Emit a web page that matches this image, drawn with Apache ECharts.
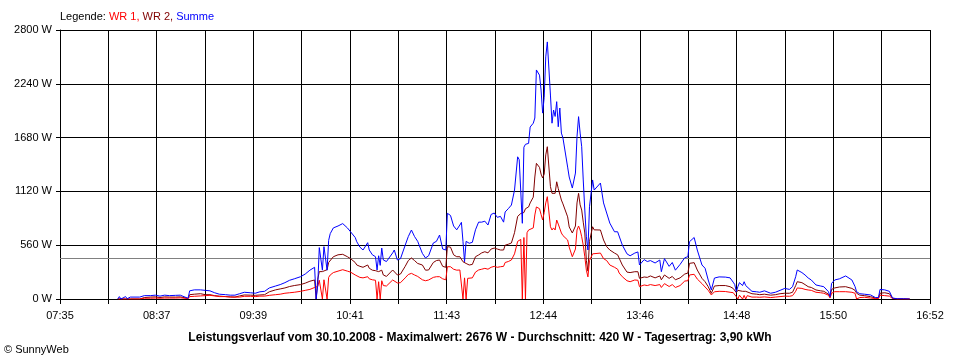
<!DOCTYPE html>
<html><head><meta charset="utf-8">
<script src="https://cdn.jsdelivr.net/npm/echarts@6/dist/echarts.min.js"></script>
<style>html,body{margin:0;padding:0;background:#fff}#c{width:960px;height:360px}</style>
</head><body><div id="c"></div>
<script>
const times = [
"08:12","08:13","08:14","08:17","08:18","08:20","08:21","08:26","08:27","08:29",
"08:33","08:36","08:39","08:42","08:45","08:49","08:52","08:55","08:57","08:58",
"09:01","09:05","09:08","09:11","09:14","09:17","09:21","09:24","09:27","09:30",
"09:33","09:37","09:40","09:43","09:46","09:49","09:53","09:56","09:59","10:02",
"10:05","10:09","10:12","10:15","10:18","10:19","10:20","10:21","10:23","10:24",
"10:26","10:27","10:28","10:30","10:33","10:36","10:39","10:41","10:42","10:44",
"10:45","10:47","10:49","10:52","10:53","10:55","10:57","10:58","10:59","11:00",
"11:01","11:02","11:04","11:05","11:08","11:09","11:11","11:13","11:16","11:18",
"11:20","11:22","11:24","11:25","11:27","11:29","11:31","11:34","11:36","11:38",
"11:40","11:42","11:43","11:45","11:47","11:49","11:51","11:52","11:53","11:54",
"11:55","11:56","11:57","11:59","12:01","12:03","12:05","12:07","12:09","12:11",
"12:13","12:15","12:17","12:19","12:20","12:22","12:24","12:26","12:28","12:29",
"12:30","12:31","12:32","12:33","12:34","12:35","12:36","12:38","12:39","12:40",
"12:42","12:43","12:44","12:45","12:46","12:47","12:49","12:50","12:51","12:52",
"12:53","12:54","12:55","12:56","12:57","13:00","13:01","13:03","13:05","13:06",
"13:07","13:08","13:09","13:10","13:11","13:12","13:13","13:14","13:16","13:17",
"13:21","13:23","13:25","13:27","13:30","13:32","13:33","13:35","13:38","13:40",
"13:43","13:45","13:46","13:49","13:51","13:53","13:56","13:59","14:00","14:02",
"14:05","14:07","14:09","14:12","14:15","14:17","14:18","14:21","14:22","14:23",
"14:26","14:28","14:30","14:32","14:34","14:37","14:41","14:44","14:46","14:47",
"14:48","14:49","14:50","14:52","14:53","14:54","14:55","14:58","15:01","15:03",
"15:06","15:10","15:13","15:16","15:19","15:22","15:24","15:26","15:27","15:30",
"15:32","15:34","15:36","15:39","15:42","15:44","15:47","15:48","15:49","15:51",
"15:54","15:58","15:59","16:02","16:04","16:05","16:06","16:07","16:10","16:14",
"16:17","16:19","16:20","16:23","16:26","16:28","16:31","16:35","16:39"
];
const wr1 = [
0,0,0,0,0,0,0,0,5,8,
8,10,8,10,10,10,12,8,3,25,
28,32,35,38,32,25,25,20,20,20,
28,28,25,30,30,38,45,50,60,65,
70,80,90,100,120,125,130,195,0,200,
0,225,250,275,290,305,290,280,267,250,
232,225,220,232,210,200,195,0,180,0,
190,140,135,135,198,195,167,170,220,255,
267,250,235,230,200,190,198,225,232,232,
210,200,336,336,310,300,302,302,0,220,
0,215,215,220,280,302,310,319,310,330,
340,330,336,340,380,390,406,470,600,610,
620,0,640,0,690,718,718,740,875,958,
940,880,822,900,1000,1065,752,718,740,718,
822,780,800,687,660,614,540,440,520,718,
760,718,648,560,440,300,230,400,470,450,
478,420,400,354,330,310,270,232,190,180,
198,195,128,146,140,150,140,150,120,160,
130,150,120,140,187,190,250,257,255,208,
160,125,90,42,75,80,78,70,66,60,
24,0,40,0,38,0,35,20,20,18,
22,15,20,25,30,28,35,80,115,110,
100,94,90,70,65,60,40,10,60,76,
76,76,76,70,60,0,20,15,18,10,
5,5,40,35,30,5,0,0,0
];
const wr2 = [
0,0,0,0,0,0,0,0,8,15,
20,22,15,22,20,20,22,12,5,45,
50,55,45,45,35,30,25,22,20,32,
42,40,38,42,45,75,95,105,115,130,
140,150,165,185,198,0,205,285,285,300,
305,380,400,440,460,465,440,420,406,380,
354,340,330,354,320,300,295,290,285,270,
300,250,235,240,302,300,250,260,340,400,
427,400,370,360,354,300,302,380,400,406,
340,330,545,540,460,440,440,440,388,388,
370,354,354,360,440,458,480,492,480,520,
530,520,510,510,560,570,583,690,860,875,
890,890,900,940,950,958,1000,1060,1270,1412,
1370,1300,1260,1300,1500,1585,1170,1100,1120,1100,
1220,1150,1170,1030,990,855,750,687,760,1000,
1100,980,926,800,687,400,290,600,752,720,
718,614,545,510,478,460,440,354,280,275,
284,284,215,229,225,240,220,240,200,250,
215,235,200,220,260,270,371,378,375,302,
215,180,128,59,135,140,140,128,110,100,
66,90,97,80,90,80,70,55,50,45,
50,40,45,55,60,60,70,140,180,170,
150,128,120,94,85,80,50,24,100,115,
125,128,128,110,90,60,45,40,35,24,
10,10,60,65,55,8,0,0,0
];
const summe = [
0,25,0,25,3,20,3,20,10,35,
35,40,30,40,35,38,40,20,8,85,
95,95,90,85,65,50,45,40,40,55,
70,65,60,75,80,115,135,150,170,195,
210,232,260,300,330,0,140,535,300,545,
300,610,680,740,760,785,740,700,684,640,
596,540,510,586,510,460,440,302,450,350,
530,406,390,400,480,510,406,420,560,650,
718,650,600,620,475,427,450,583,600,666,
520,510,892,870,760,720,770,798,600,388,
600,596,580,590,720,800,800,810,770,880,
895,850,860,800,906,940,978,1134,1480,1450,
1430,788,1580,1610,1615,1620,1790,1830,1884,2384,
2330,2175,1935,2100,2520,2676,2123,1830,1967,1900,
2054,1793,1988,1727,1676,1373,1270,1155,1311,1690,
1898,1727,1585,1239,926,648,510,960,1239,1134,
1207,1000,895,790,700,700,718,562,470,450,
478,490,354,410,390,400,375,406,284,420,
340,380,300,360,430,440,596,640,635,510,
354,320,198,94,218,230,228,220,175,150,
76,128,170,140,180,140,128,80,75,70,
85,60,70,90,110,100,128,232,302,275,
250,219,198,146,135,128,76,24,163,198,
210,240,250,198,130,76,60,55,50,42,
15,15,100,95,80,10,3,3,0
];
const xTickLabels = ['07:35','08:37','09:39','10:41','11:43','12:44','13:46','14:48','15:50','16:52'];
const yMax = 2800, yStep = 560;
const avgValue = 420;
const titleText = 'Leistungsverlauf vom 30.10.2008 - Maximalwert: 2676 W - Durchschnitt: 420 W - Tagesertrag: 3,90 kWh';

const startMin = 7*60+35, endMin = 16*60+52;
const unitsPerMin = 18;              // axis units per minute (keeps the grid step integral)
const xSpan = (endMin - startMin) * unitsPerMin;
const xStep = xSpan / 18;
function toX(t){ const p = t.split(':').map(Number); return (p[0]*60 + p[1] - startMin) * unitsPerMin; }
function build(arr){ return times.map((t,i)=>[toX(t), arr[i]]); }

const FONT = 'Liberation Sans';
const chart = echarts.init(document.getElementById('c'), null, {renderer:'canvas'});
chart.setOption({
  animation:false,
  backgroundColor:'#fff',
  grid:{left:60, right:30, top:30, bottom:61},
  xAxis:{
    type:'value', min:0, max:xSpan, interval:xStep,
    axisLine:{show:true, onZero:false, lineStyle:{color:'#000', width:1}},
    axisTick:{show:true, length:5, lineStyle:{color:'#000'}},
    splitLine:{show:true, lineStyle:{color:'#000', width:1}},
    axisLabel:{
      margin:11, color:'#000', fontFamily:FONT, fontSize:11,
      formatter:function(v){ const i = Math.round(v/xStep); return (i%2===0) ? (xTickLabels[i/2]||'') : ''; }
    }
  },
  yAxis:{
    type:'value', min:0, max:yMax, interval:yStep,
    axisLine:{show:true, lineStyle:{color:'#000', width:1}},
    axisTick:{show:true, length:4, lineStyle:{color:'#000'}},
    splitLine:{show:true, lineStyle:{color:'#000', width:1}},
    axisLabel:{margin:8, color:'#000', fontFamily:FONT, fontSize:11, formatter:function(v){ return String(v) + ' W'; }}
  },
  graphic:[
    {type:'text', left:60, top:11, style:{
      text:'{k|Legende: }{a|WR 1, }{b|WR 2, }{c|Summe}',
      rich:{
        k:{fill:'#000', fontFamily:FONT, fontSize:11},
        a:{fill:'#FF0000', fontFamily:FONT, fontSize:11},
        b:{fill:'#800000', fontFamily:FONT, fontSize:11},
        c:{fill:'#0000FF', fontFamily:FONT, fontSize:11}
      }}},
    {type:'text', left:'center', top:332, style:{text:titleText, fill:'#000', fontFamily:FONT, fontSize:12, fontWeight:'bold'}},
    {type:'text', left:4, top:344, style:{text:'\u00A9 SunnyWeb', fill:'#000', fontFamily:FONT, fontSize:11}}
  ],
  series:[
    {name:'WR 2', type:'line', data:build(wr2), showSymbol:false, symbol:'none', lineStyle:{color:'#800000', width:1}, itemStyle:{color:'#800000'}},
    {name:'WR 1', type:'line', data:build(wr1), showSymbol:false, symbol:'none', lineStyle:{color:'#FF0000', width:1}, itemStyle:{color:'#FF0000'}},
    {name:'Summe', type:'line', data:build(summe), showSymbol:false, symbol:'none', lineStyle:{color:'#0000FF', width:1}, itemStyle:{color:'#0000FF'},
      markLine:{silent:true, symbol:['none','none'], label:{show:false}, z:1,
        lineStyle:{color:'#808080', type:'solid', width:1}, data:[{yAxis:avgValue}]}}
  ]
});
</script>
</body></html>
